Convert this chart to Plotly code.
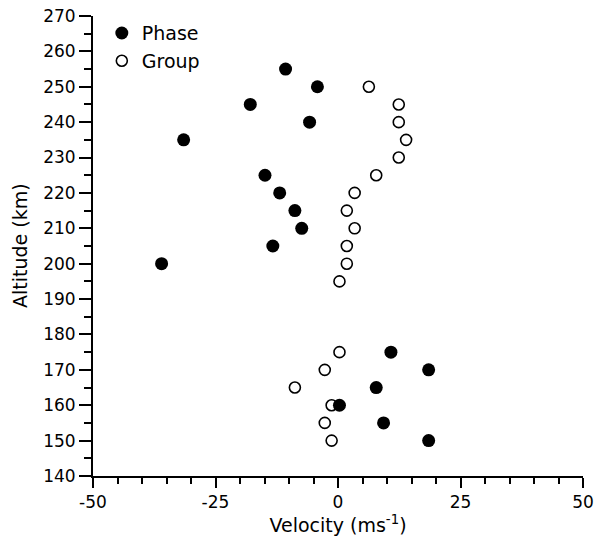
import plotly.graph_objects as go

phase_alt = [255, 250, 245, 240, 235, 225, 220, 215, 210, 205, 200,
             175, 170, 165, 160, 155, 150]
phase_vel = [-10.7, -4.2, -17.9, -5.8, -31.5, -14.9, -11.9, -8.8, -7.4, -13.3, -36.0,
             10.8, 18.5, 7.8, 0.3, 9.3, 18.5]

group_alt = [250, 245, 240, 235, 230, 225, 220, 215, 210, 205, 200, 195,
             175, 170, 165, 160, 155, 150]
group_vel = [6.3, 12.4, 12.4, 13.9, 12.4, 7.8, 3.4, 1.8, 3.4, 1.8, 1.8, 0.3,
             0.3, -2.7, -8.8, -1.3, -2.7, -1.3]

x_ticks = [-50, -25, 0, 25, 50]
y_ticks = list(range(140, 271, 10))

FONT = "DejaVu Sans, sans-serif"

fig = go.Figure()
fig.add_trace(go.Scatter(
    x=phase_vel, y=phase_alt, mode="markers", name="Phase",
    marker=dict(symbol="circle", size=13, color="black",
                line=dict(color="black", width=0)),
))
fig.add_trace(go.Scatter(
    x=group_vel, y=group_alt, mode="markers", name="Group",
    marker=dict(symbol="circle-open", size=11, color="black",
                line=dict(color="black", width=1.6)),
))

fig.update_layout(
    width=595, height=540,
    margin=dict(l=93, r=12, t=16, b=64),
    paper_bgcolor="white", plot_bgcolor="white",
    font=dict(family=FONT, size=17, color="black"),
    showlegend=True,
    legend=dict(x=0.018, y=1.004, xanchor="left", yanchor="top",
                bgcolor="rgba(0,0,0,0)", borderwidth=0,
                font=dict(family=FONT, size=19, color="black"),
                itemsizing="trace", tracegroupgap=0),
    xaxis=dict(
        range=[-50, 50], tickmode="array", tickvals=x_ticks,
        ticktext=[str(v) for v in x_ticks], automargin=False,
        showgrid=False, zeroline=False, showline=True, linecolor="black",
        linewidth=2, ticks="outside", ticklen=10, tickwidth=2, tickcolor="black",
        minor=dict(dtick=5, tick0=0, ticks="outside", ticklen=6, tickwidth=2,
                   tickcolor="black", showgrid=False),
        title=dict(text="Velocity (ms<sup>-1</sup>)", font=dict(size=19), standoff=4),
        tickfont=dict(size=17),
    ),
    yaxis=dict(
        range=[140, 270], tickmode="array", tickvals=y_ticks,
        ticktext=[str(v) for v in y_ticks], automargin=False,
        showgrid=False, zeroline=False, showline=True, linecolor="black",
        linewidth=2, ticks="outside", ticklen=12, tickwidth=2, tickcolor="black",
        minor=dict(dtick=5, tick0=0, ticks="outside", ticklen=7, tickwidth=2,
                   tickcolor="black", showgrid=False),
        tickfont=dict(size=17),
    ),
    annotations=[dict(
        text="Altitude (km)", textangle=-90, showarrow=False,
        xref="paper", yref="paper", x=-(93 - 20) / 490, y=0.5,
        xanchor="center", yanchor="middle",
        font=dict(family=FONT, size=19, color="black"),
    )],
)

fig.write_html("out.html")
